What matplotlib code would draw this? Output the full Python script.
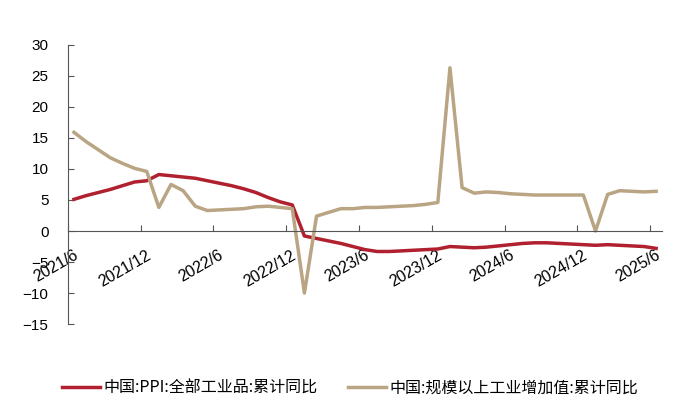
import matplotlib
matplotlib.use('Agg')
import matplotlib.pyplot as plt
import matplotlib.transforms as mtransforms
import numpy as np

# Data (monthly, 2021/6 - 2025/6)
months = ['2021/6', '2021/7', '2021/8', '2021/9', '2021/10', '2021/11', '2021/12',
          '2022/1', '2022/2', '2022/3', '2022/4', '2022/5', '2022/6', '2022/7', '2022/8',
          '2022/9', '2022/10', '2022/11', '2022/12',
          '2023/1', '2023/2', '2023/3', '2023/4', '2023/5', '2023/6', '2023/7', '2023/8',
          '2023/9', '2023/10', '2023/11', '2023/12',
          '2024/1', '2024/2', '2024/3', '2024/4', '2024/5', '2024/6', '2024/7', '2024/8',
          '2024/9', '2024/10', '2024/11', '2024/12',
          '2025/1', '2025/2', '2025/3', '2025/4', '2025/5', '2025/6']
ppi = [5.1, 5.7, 6.2, 6.7, 7.3, 7.9, 8.1,
       9.1, 8.9, 8.7, 8.5, 8.1, 7.7, 7.3, 6.8, 6.2, 5.4, 4.7, 4.2,
       -0.8, -1.2, -1.6, -2.0, -2.5, -3.0, -3.3, -3.3, -3.2, -3.1, -3.0, -2.9,
       -2.5, -2.6, -2.7, -2.6, -2.4, -2.2, -2.0, -1.9, -1.9, -2.0, -2.1, -2.2,
       -2.3, -2.2, -2.3, -2.4, -2.5, -2.8]
iva = [15.9, 14.4, 13.1, 11.8, 10.9, 10.1, 9.6,
       3.8, 7.5, 6.5, 4.0, 3.3, 3.4, 3.5, 3.6, 3.9, 4.0, 3.8, 3.6,
       -10.0, 2.4, 3.0, 3.6, 3.6, 3.8, 3.8, 3.9, 4.0, 4.1, 4.3, 4.6,
       26.3, 7.0, 6.1, 6.3, 6.2, 6.0, 5.9, 5.8, 5.8, 5.8, 5.8, 5.8,
       0.0, 5.9, 6.5, 6.4, 6.3, 6.4]
tick_labels = ['2021/6', '2021/12', '2022/6', '2022/12', '2023/6',
               '2023/12', '2024/6', '2024/12', '2025/6']
name_ppi = '中国:PPI:全部工业品:累计同比'
name_iva = '中国:规模以上工业增加值:累计同比'

plt.rcParams['font.family'] = ['Liberation Sans', 'Noto Sans CJK SC', 'DejaVu Sans']

fig = plt.figure(figsize=(7, 4.15), dpi=100)
ax = fig.add_axes([0.097, 0.219, 0.849, 0.673])

x = np.arange(len(months)) + 0.5
ax.plot(x, ppi, color='#B0202E', lw=2.5, label=name_ppi, solid_joinstyle='round')
ax.plot(x, iva, color='#B9A584', lw=2.5, label=name_iva, solid_joinstyle='round')

for s in ['top', 'right']:
    ax.spines[s].set_visible(False)
ax.spines['bottom'].set_position(('data', 0))
ax.spines['bottom'].set_color('#555555')
ax.spines['left'].set_color('#555555')
ax.tick_params(axis='x', direction='in', length=4, color='#555555', pad=12)
ax.tick_params(axis='y', direction='in', length=4, color='#555555', labelsize=11, pad=14)

ax.set_xlim(0, len(months))
ax.set_ylim(-15, 30)
ax.set_yticks(np.arange(-15, 31, 5))
ax.set_xticks([months.index(t) for t in tick_labels])
ax.set_xticklabels(tick_labels, rotation=30, ha='right', va='top',
                   rotation_mode='anchor', fontsize=11.5)
# shift the rotated labels a little right, like the original
shift = mtransforms.ScaledTranslation(5 / 100, 0, fig.dpi_scale_trans)
for lab in ax.get_xticklabels():
    lab.set_transform(lab.get_transform() + shift)

fig.legend(loc='center', bbox_to_anchor=(0.5, 0.065), ncol=2, frameon=False,
           prop={'family': ['Noto Sans CJK SC', 'DejaVu Sans'], 'size': 11.5},
           handlelength=2.4, columnspacing=1.9, handletextpad=0.2)

fig.savefig('out.png', dpi=100)
